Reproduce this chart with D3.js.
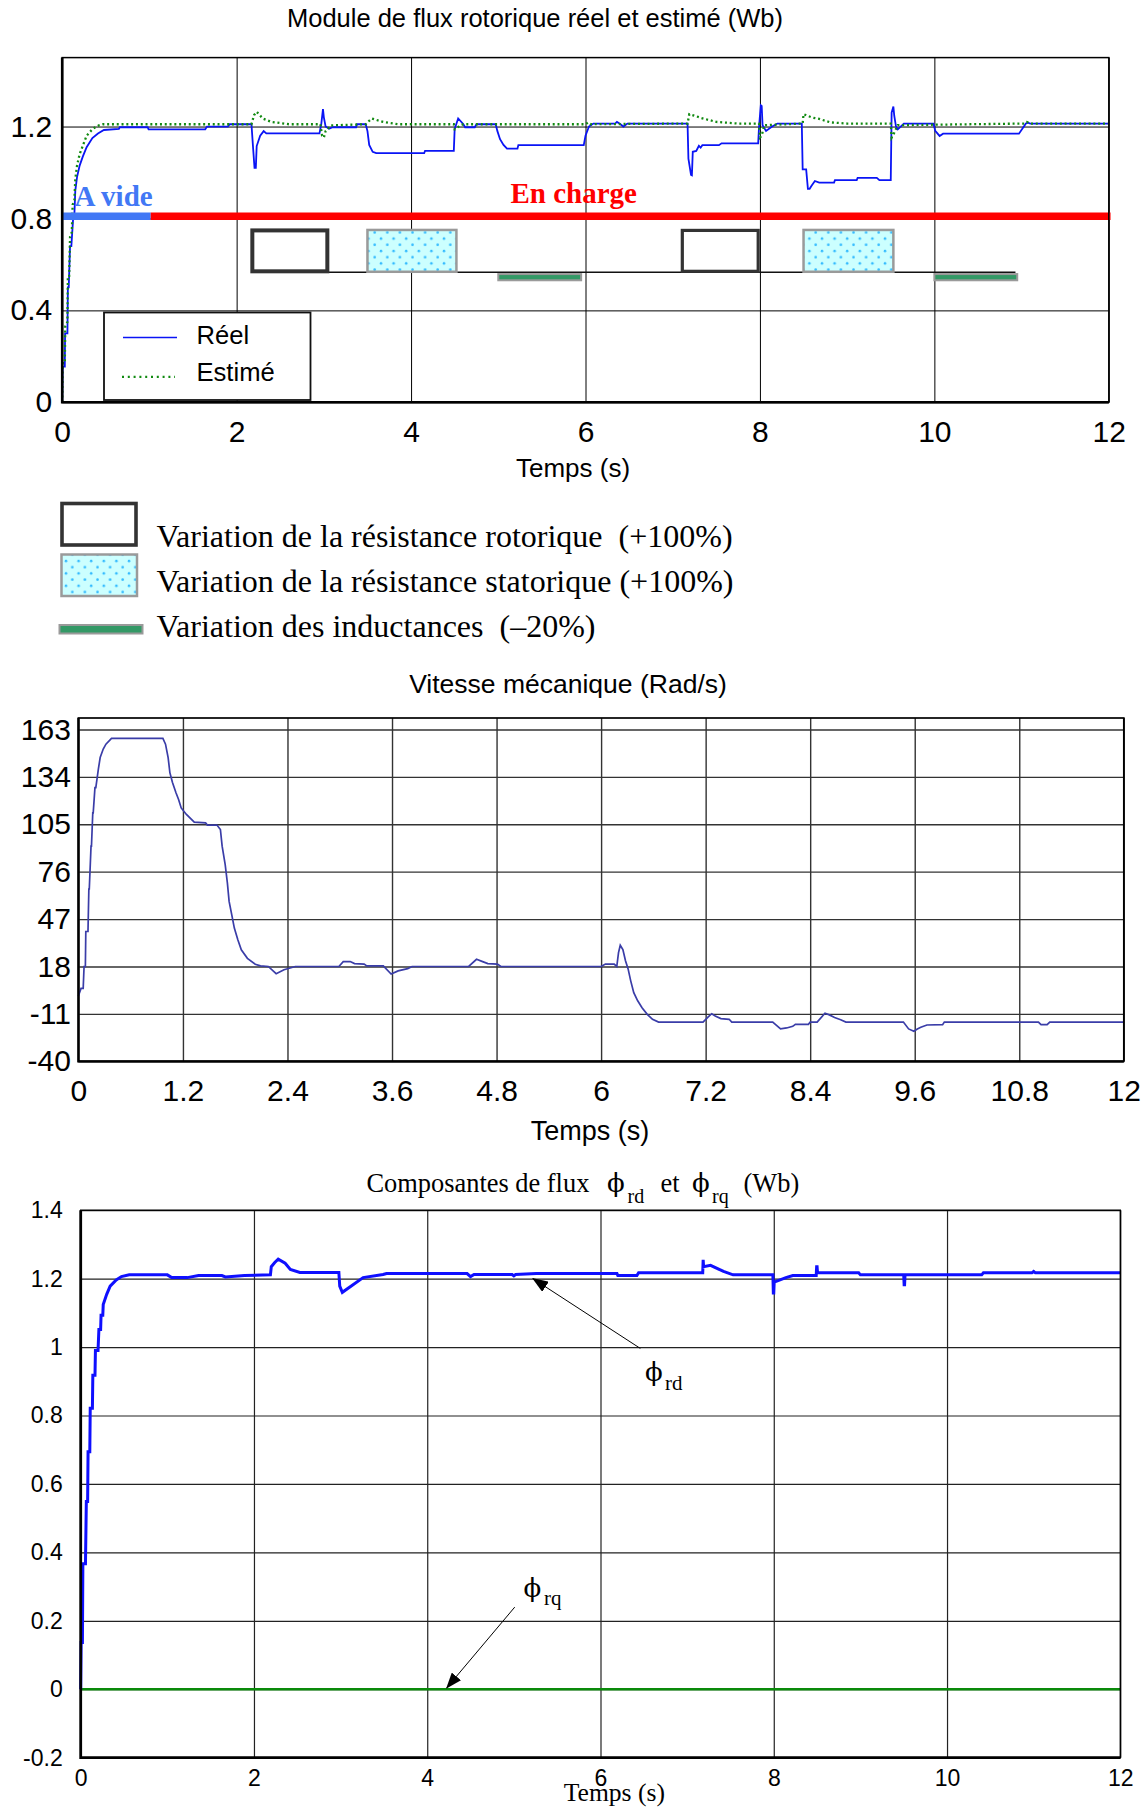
<!DOCTYPE html>
<html><head><meta charset="utf-8">
<script src="https://cdn.jsdelivr.net/npm/d3@7/dist/d3.min.js"></script>
<style>html,body{margin:0;padding:0;background:#fff}svg{display:block}text{white-space:pre}</style>
</head><body>
<svg id="chart" width="1148" height="1807"></svg>
<script>
// ---------------- data ----------------
const timeTicks = [0, 2, 4, 6, 8, 10, 12];
const fluxModuleTicks = [0, 0.4, 0.8, 1.2];
const speedTicks = [-40, -11, 18, 47, 76, 105, 134, 163];
const speedTimeTicks = [0, 1.2, 2.4, 3.6, 4.8, 6, 7.2, 8.4, 9.6, 10.8, 12];
const componentTicks = [-0.2, 0, 0.2, 0.4, 0.6, 0.8, 1, 1.2, 1.4];

// [time (s), flux (Wb)]
const fluxReel = [[0,0],[0.005,0.155],[0.03,0.155],[0.033,0.30],[0.06,0.30],[0.065,0.50],[0.075,0.50],[0.09,0.68],[0.105,0.68],[0.127,0.81],[0.14,0.82],[0.15,0.92],[0.17,0.98],[0.2,1.03],[0.237,1.07],[0.28,1.11],[0.346,1.15],[0.41,1.17],[0.478,1.185],[0.65,1.19],[0.66,1.197],[0.98,1.197],[0.99,1.188],[1.64,1.188],[1.66,1.2],[1.9,1.2],[1.92,1.21],[2.17,1.21],[2.19,1.1],[2.205,1.02],[2.22,1.02],[2.23,1.115],[2.27,1.16],[2.31,1.18],[2.34,1.17],[2.95,1.17],[2.97,1.21],[2.99,1.276],[3.0,1.24],[3.02,1.2],[3.06,1.19],[3.1,1.197],[3.37,1.197],[3.38,1.21],[3.48,1.21],[3.5,1.18],[3.52,1.12],[3.56,1.09],[3.6,1.084],[4.15,1.084],[4.16,1.094],[4.49,1.094],[4.5,1.19],[4.54,1.235],[4.6,1.21],[4.62,1.197],[4.73,1.197],[4.75,1.21],[4.97,1.21],[4.99,1.18],[5.02,1.145],[5.06,1.12],[5.1,1.104],[5.22,1.104],[5.23,1.119],[5.98,1.119],[6.0,1.16],[6.04,1.2],[6.09,1.213],[6.34,1.213],[6.36,1.22],[6.39,1.213],[6.435,1.2],[6.48,1.213],[7.17,1.213],[7.18,1.06],[7.21,0.99],[7.22,0.988],[7.23,1.09],[7.27,1.094],[7.3,1.116],[7.32,1.108],[7.34,1.119],[7.53,1.119],[7.56,1.127],[7.98,1.127],[7.99,1.2],[8.01,1.293],[8.02,1.29],[8.03,1.206],[8.07,1.181],[8.14,1.2],[8.2,1.213],[8.48,1.213],[8.49,1.014],[8.53,1.014],[8.55,0.929],[8.57,0.929],[8.59,0.941],[8.63,0.963],[8.68,0.956],[8.85,0.956],[8.86,0.967],[9.11,0.967],[9.12,0.977],[9.34,0.977],[9.37,0.967],[9.5,0.967],[9.51,1.261],[9.53,1.287],[9.54,1.247],[9.56,1.2],[9.58,1.188],[9.65,1.213],[9.99,1.213],[10.01,1.181],[10.06,1.159],[10.1,1.169],[10.97,1.169],[11.05,1.213],[11.07,1.217],[11.1,1.213],[12,1.213]];

const fluxEstime = [[0,0],[0.005,0.17],[0.03,0.17],[0.035,0.33],[0.06,0.35],[0.065,0.55],[0.08,0.55],[0.09,0.72],[0.11,0.74],[0.12,0.86],[0.14,0.88],[0.15,0.97],[0.17,1.03],[0.2,1.08],[0.24,1.12],[0.28,1.16],[0.35,1.19],[0.42,1.205],[0.47,1.21],[2.17,1.21],[2.2,1.25],[2.23,1.264],[2.3,1.235],[2.4,1.22],[2.6,1.21],[2.96,1.21],[2.98,1.16],[3.0,1.152],[3.02,1.18],[3.08,1.205],[3.48,1.21],[3.52,1.225],[3.55,1.235],[3.68,1.22],[3.85,1.21],[4.49,1.21],[4.5,1.188],[4.52,1.19],[4.56,1.205],[4.6,1.21],[6.0,1.21],[6.03,1.218],[6.06,1.21],[7.17,1.213],[7.19,1.254],[7.25,1.247],[7.33,1.237],[7.5,1.22],[7.75,1.213],[7.99,1.213],[8.0,1.152],[8.02,1.16],[8.05,1.206],[8.49,1.213],[8.5,1.254],[8.59,1.24],[8.68,1.233],[8.81,1.218],[9.0,1.213],[9.5,1.213],[9.51,1.152],[9.53,1.165],[9.58,1.206],[11.03,1.213],[11.06,1.22],[11.1,1.213],[12,1.213]];

// [time (s), speed (rad/s)]
const vitesse = [[0,0],[0.03,4.6],[0.055,4.6],[0.065,18],[0.08,18],[0.085,39.4],[0.11,39.4],[0.12,65.4],[0.125,65.4],[0.145,91.6],[0.15,91.6],[0.165,112],[0.17,112],[0.19,127.4],[0.2,127.4],[0.23,139],[0.25,145.8],[0.285,151],[0.316,154],[0.38,157.5],[0.97,157.5],[1.0,154],[1.03,145.8],[1.05,136.6],[1.08,130.5],[1.12,124.3],[1.15,120.2],[1.18,115],[1.24,111],[1.33,106.3],[1.46,105.9],[1.48,104.5],[1.59,104.5],[1.63,101.8],[1.65,91.6],[1.685,80.3],[1.71,69.1],[1.73,57.8],[1.76,49.7],[1.79,41.5],[1.83,34.3],[1.87,28.2],[1.94,23],[2.03,19.4],[2.09,18.4],[2.18,18],[2.27,13.6],[2.36,16],[2.49,18],[2.99,18],[3.04,21],[3.12,21],[3.17,19.8],[3.28,19.5],[3.31,18.4],[3.5,18.4],[3.59,13.4],[3.67,15.3],[3.78,16.7],[3.83,18],[4.48,18],[4.57,22.4],[4.64,21],[4.7,19.8],[4.81,19.5],[4.85,18],[6.0,18],[6.05,19.5],[6.15,19.5],[6.18,18],[6.2,26.5],[6.22,31],[6.25,28.3],[6.28,21.5],[6.31,16.5],[6.34,9.2],[6.375,2],[6.42,-3],[6.47,-7.2],[6.53,-11.3],[6.59,-14.3],[6.66,-16],[7.17,-16],[7.23,-12.8],[7.27,-10.9],[7.31,-12.3],[7.375,-13.9],[7.47,-14.3],[7.5,-16],[7.97,-16],[8.06,-20.2],[8.13,-19.6],[8.2,-18.6],[8.23,-17.4],[8.38,-17.4],[8.4,-16],[8.48,-16],[8.57,-10.6],[8.62,-11.6],[8.68,-13.2],[8.75,-14.6],[8.81,-16],[9.47,-16],[9.53,-20.2],[9.59,-21.6],[9.63,-20.2],[9.67,-19.2],[9.74,-17.8],[9.92,-17.6],[9.94,-16],[11.02,-16],[11.05,-17.6],[11.12,-17.6],[11.15,-16],[12,-16]];

// [time (s), component (Wb)]
const phiRd = [[0,0],[0.005,0.137],[0.02,0.137],[0.025,0.367],[0.055,0.367],[0.065,0.549],[0.08,0.549],[0.085,0.694],[0.105,0.694],[0.11,0.821],[0.135,0.821],[0.14,0.918],[0.165,0.918],[0.17,0.99],[0.2,0.99],[0.21,1.051],[0.23,1.051],[0.235,1.093],[0.255,1.093],[0.26,1.124],[0.3,1.154],[0.34,1.178],[0.41,1.196],[0.47,1.206],[0.56,1.211],[1.0,1.211],[1.05,1.203],[1.23,1.203],[1.36,1.209],[1.63,1.209],[1.67,1.205],[1.89,1.209],[2.19,1.211],[2.2,1.235],[2.24,1.247],[2.28,1.257],[2.36,1.245],[2.42,1.227],[2.53,1.218],[2.98,1.218],[2.99,1.178],[3.02,1.16],[3.26,1.203],[3.49,1.212],[3.53,1.215],[4.46,1.215],[4.5,1.206],[4.54,1.212],[4.98,1.212],[5.0,1.208],[5.02,1.212],[5.26,1.215],[6.19,1.215],[6.2,1.209],[6.42,1.209],[6.44,1.217],[7.18,1.217],[7.185,1.255],[7.19,1.235],[7.27,1.239],[7.42,1.221],[7.53,1.211],[7.99,1.211],[7.995,1.158],[8.0,1.158],[8.005,1.19],[8.05,1.194],[8.14,1.203],[8.22,1.209],[8.49,1.209],[8.495,1.235],[8.5,1.235],[8.505,1.217],[8.98,1.217],[9.0,1.211],[9.5,1.211],[9.505,1.182],[9.51,1.182],[9.515,1.211],[10.4,1.211],[10.42,1.217],[10.98,1.217],[11.0,1.221],[11.02,1.217],[12,1.217]];
const phiRq = [[0,0],[12,0]];

// parameter variation periods [start, end] (s)
const rotorPeriods = [[2.18,3.04],[7.11,7.98]];
const statorPeriods = [[3.5,4.52],[8.5,9.53]];
const inductancePeriods = [[5.0,5.95],[10.0,10.95]];
const loadNames = ['A vide', 'En charge'];
const loadBounds = [0, 1.015, 12.02];
const variationLabels = ['Variation de la résistance rotorique  (+100%)',
                         'Variation de la résistance statorique (+100%)',
                         'Variation des inductances  (\u201320%)'];
const fluxLegend = ['Réel', 'Estimé'];

// ---------------- drawing ----------------
const SANS = '"Liberation Sans", Arial, Helvetica, sans-serif';
const SERIF = '"Liberation Serif", "Times New Roman", serif';
const PHI_FONT = '"DejaVu Serif", "Liberation Serif", serif';
const PHI = '\u03d5';
const svg = d3.select('#chart');
const defs = svg.append('defs');
const pat = defs.append('pattern').attr('id','dots').attr('patternUnits','userSpaceOnUse')
  .attr('width',12.6).attr('height',12.4);
pat.append('rect').attr('width',12.6).attr('height',12.4).attr('fill','#ccffff');
pat.append('circle').attr('cx',3).attr('cy',3).attr('r',1.3).attr('fill','#33bbff');
pat.append('circle').attr('cx',9.3).attr('cy',9.2).attr('r',1.3).attr('fill','#33bbff');
defs.append('marker').attr('id','arrow').attr('markerUnits','userSpaceOnUse')
  .attr('markerWidth',16).attr('markerHeight',12).attr('refX',15).attr('refY',6)
  .attr('orient','auto').append('path').attr('d','M0,0 L16,6 L0,12 Z').attr('fill','#000');

function grid(g, x, y, p, xt, yt, color, width) {
  g.append('g').attr('transform',`translate(0,${p.bottom})`)
    .call(d3.axisBottom(x).tickValues(xt).tickSize(-(p.bottom-p.top)).tickFormat(''))
    .call(a => { a.select('.domain').remove(); a.selectAll('line').attr('stroke',color).attr('stroke-width',width); });
  g.append('g').attr('transform',`translate(${p.left},0)`)
    .call(d3.axisLeft(y).tickValues(yt).tickSize(-(p.right-p.left)).tickFormat(''))
    .call(a => { a.select('.domain').remove(); a.selectAll('line').attr('stroke',color).attr('stroke-width',width); });
}
function labels(g, x, y, p, xt, yt, font, xPad, yPad) {
  g.append('g').attr('transform',`translate(0,${p.bottom})`)
    .call(d3.axisBottom(x).tickValues(xt).tickSize(0).tickPadding(xPad).tickFormat(d => String(d)))
    .call(a => { a.select('.domain').remove(); a.selectAll('line').remove();
      a.selectAll('text').attr('font-family',SANS).attr('font-size',font).attr('fill','#000'); });
  g.append('g').attr('transform',`translate(${p.left},0)`)
    .call(d3.axisLeft(y).tickValues(yt).tickSize(0).tickPadding(yPad).tickFormat(d => String(d)))
    .call(a => { a.select('.domain').remove(); a.selectAll('line').remove();
      a.selectAll('text').attr('font-family',SANS).attr('font-size',font).attr('fill','#000'); });
}
function frame(g, p, thin, thick, col) {
  g.append('rect').attr('x',p.left).attr('y',p.top).attr('width',p.right-p.left).attr('height',p.bottom-p.top)
    .attr('fill','none').attr('stroke',col||'#000').attr('stroke-width',thin);
  g.append('path').attr('d',`M${p.left},${p.top}V${p.bottom}H${p.right}`).attr('fill','none').attr('stroke','#000').attr('stroke-width',thick);
}
function txt(g, s, x, y, size, family, anchor, extra) {
  const t = g.append('text').attr('x',x).attr('y',y).attr('font-size',size).attr('font-family',family)
    .attr('text-anchor',anchor||'start').attr('fill','#000').text(s);
  if (extra) extra(t);
  return t;
}

// ===== Panel 1 : flux module =====
const p1 = {left:62.2, right:1108.8, top:57.6, bottom:402.3};
const x1 = d3.scaleLinear().domain([0,12]).range([p1.left,p1.right]);
const y1 = d3.scaleLinear().domain([0,1.5]).range([p1.bottom,p1.top]);
const g1 = svg.append('g');
grid(g1, x1, y1, p1, timeTicks, fluxModuleTicks, '#000', 1);
labels(g1, x1, y1, p1, timeTicks, fluxModuleTicks, 30, 18, 10);
txt(g1, 'Module de flux rotorique réel et estimé (Wb)', 535, 26.5, 25.5, SANS, 'middle');
txt(g1, 'Temps (s)', 573, 477, 26, SANS, 'middle');

const line1 = d3.line().x(d => x1(d[0])).y(d => y1(d[1]));
g1.append('path').datum(fluxReel).attr('d',line1).attr('fill','none').attr('stroke','#0a14f5').attr('stroke-width',1.8);
g1.append('path').datum(fluxEstime).attr('d',line1).attr('fill','none').attr('stroke','#118a11').attr('stroke-width',2.3).attr('stroke-dasharray','2,2.8');

// load phase bar
const loadColors = ['#4278f5','#ff0000'];
loadNames.forEach((n,i) => {
  g1.append('line').attr('x1',x1(loadBounds[i])).attr('x2',x1(loadBounds[i+1])).attr('y1',y1(0.81)).attr('y2',y1(0.81))
    .attr('stroke',loadColors[i]).attr('stroke-width',7.5);
});
txt(g1, loadNames[0], 74.5, 206, 29, SERIF, 'start', t => t.attr('font-weight','bold').attr('fill',loadColors[0]));
txt(g1, loadNames[1], 510.5, 203, 29, SERIF, 'start', t => t.attr('font-weight','bold').attr('fill',loadColors[1]));

// variation markers
g1.append('line').attr('x1',x1(2.2)).attr('x2',x1(10.93)).attr('y1',y1(0.566)).attr('y2',y1(0.566)).attr('stroke','#111').attr('stroke-width',1.5);
inductancePeriods.forEach(([a,b]) => {
  g1.append('rect').attr('x',x1(a)).attr('y',y1(0.558)).attr('width',x1(b)-x1(a)).attr('height',y1(0.531)-y1(0.558))
    .attr('fill','#339966').attr('stroke','#9a9a9a').attr('stroke-width',2);
});
rotorPeriods.forEach(([a,b],i) => {
  g1.append('rect').attr('x',x1(a)).attr('y',y1(0.748)).attr('width',x1(b)-x1(a)).attr('height',y1(0.57)-y1(0.748))
    .attr('fill','#fff').attr('stroke','#333').attr('stroke-width',i===0?4:3.2);
});
statorPeriods.forEach(([a,b]) => {
  g1.append('rect').attr('x',x1(a)).attr('y',y1(0.75)).attr('width',x1(b)-x1(a)).attr('height',y1(0.568)-y1(0.75))
    .attr('fill','url(#dots)').attr('stroke','#9a9a9a').attr('stroke-width',2.5);
});

// legend
const lg = g1.append('g');
lg.append('rect').attr('x',104).attr('y',312.5).attr('width',206.5).attr('height',87.5).attr('fill','#fff').attr('stroke','#111').attr('stroke-width',1.8);
lg.append('line').attr('x1',123).attr('x2',177).attr('y1',337.5).attr('y2',337.5).attr('stroke','#0a14f5').attr('stroke-width',1.6);
lg.append('line').attr('x1',122).attr('x2',175).attr('y1',376.8).attr('y2',376.8).attr('stroke','#118a11').attr('stroke-width',2.3).attr('stroke-dasharray','2,3.8');
txt(lg, fluxLegend[0], 196.5, 343.5, 25.6, SANS);
txt(lg, fluxLegend[1], 196.5, 381, 25.6, SANS);
frame(g1, p1, 1.5, 2.6);

// ===== Variation legend =====
const vl = svg.append('g');
vl.append('rect').attr('x',62).attr('y',503.5).attr('width',74).attr('height',41.5).attr('fill','#fff').attr('stroke','#333').attr('stroke-width',3.6);
vl.append('rect').attr('x',61.5).attr('y',554.5).attr('width',75.5).attr('height',41.5).attr('fill','url(#dots)').attr('stroke','#9a9a9a').attr('stroke-width',2.5);
vl.append('rect').attr('x',59.5).attr('y',625).attr('width',83).attr('height',8.5).attr('fill','#339966').attr('stroke','#9a9a9a').attr('stroke-width',2);
txt(vl, variationLabels[0], 156.5, 547, 32, SERIF);
txt(vl, variationLabels[1], 156.5, 592, 32, SERIF);
txt(vl, variationLabels[2], 156.5, 636.5, 32, SERIF);

// ===== Panel 2 : speed =====
const p2 = {left:78.4, right:1123.8, top:718, bottom:1061.3};
const x2 = d3.scaleLinear().domain([0,12]).range([p2.left,p2.right]);
const y2 = d3.scaleLinear().domain([-40,170]).range([p2.bottom,p2.top]);
const g2 = svg.append('g');
grid(g2, x2, y2, p2, speedTimeTicks, speedTicks, '#333', 1.4);
labels(g2, x2, y2, p2, speedTimeTicks, speedTicks, 30, 18, 7.5);
txt(g2, 'Vitesse mécanique (Rad/s)', 568, 693, 26.5, SANS, 'middle');
txt(g2, 'Temps (s)', 590, 1140, 27, SANS, 'middle');
const line2 = d3.line().x(d => x2(d[0])).y(d => y2(d[1]));
g2.append('path').datum(vitesse).attr('d',line2).attr('fill','none').attr('stroke','#3a3da8').attr('stroke-width',1.7);
frame(g2, p2, 1.7, 2.2);

// ===== Panel 3 : flux components =====
const p3 = {left:80.7, right:1120.3, top:1210.2, bottom:1757.7};
const x3 = d3.scaleLinear().domain([0,12]).range([p3.left,p3.right]);
const y3 = d3.scaleLinear().domain([-0.2,1.4]).range([p3.bottom,p3.top]);
const g3 = svg.append('g');
grid(g3, x3, y3, p3, timeTicks, componentTicks, '#222', 1.2);
labels(g3, x3, y3, p3, timeTicks, componentTicks, 23, 12, 18);
const line3 = d3.line().x(d => x3(d[0])).y(d => y3(d[1]));
g3.append('path').datum(phiRq).attr('d',line3).attr('fill','none').attr('stroke','#0a8a0a').attr('stroke-width',2.6);
g3.append('path').datum(phiRd).attr('d',line3).attr('fill','none').attr('stroke','#0f0fff').attr('stroke-width',3);
frame(g3, p3, 1.4, 2.8);

// title with phi symbols
const t3 = g3.append('g');
txt(t3, 'Composantes de flux', 366.5, 1192, 26.4, SERIF);
txt(t3, PHI, 607, 1192, 26, PHI_FONT);
txt(t3, 'rd', 627.5, 1203, 20, SERIF);
txt(t3, 'et', 660.5, 1192, 26.4, SERIF);
txt(t3, PHI, 692, 1192, 26, PHI_FONT);
txt(t3, 'rq', 712, 1203, 20, SERIF);
txt(t3, '(Wb)', 743.5, 1192, 26.4, SERIF);
txt(g3, 'Temps (s)', 563.7, 1801, 25.6, SERIF);

// annotations
g3.append('line').attr('x1',x3(6.46)).attr('y1',y3(0.996)).attr('x2',x3(5.22)).attr('y2',y3(1.2))
  .attr('stroke','#000').attr('stroke-width',1).attr('marker-end','url(#arrow)');
txt(g3, PHI, 645, 1381, 26, PHI_FONT);
txt(g3, 'rd', 665, 1389.5, 21, SERIF);
g3.append('line').attr('x1',x3(5.01)).attr('y1',y3(0.24)).attr('x2',x3(4.225)).attr('y2',y3(0.004))
  .attr('stroke','#000').attr('stroke-width',1).attr('marker-end','url(#arrow)');
txt(g3, PHI, 523.5, 1597, 26, PHI_FONT);
txt(g3, 'rq', 544, 1605, 21, SERIF);
</script>
</body></html>
